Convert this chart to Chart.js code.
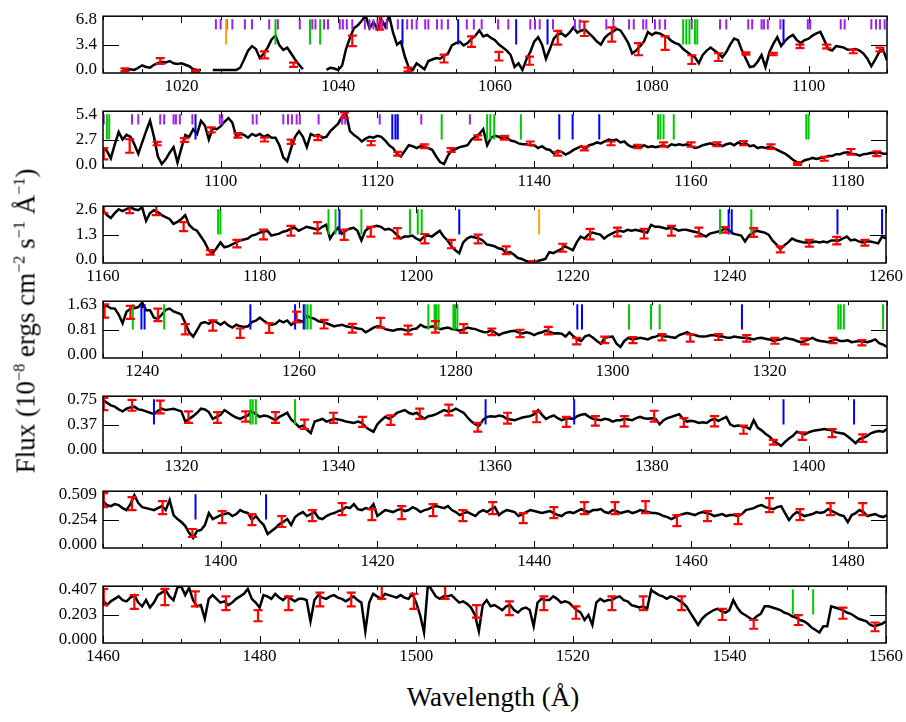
<!DOCTYPE html>
<html>
<head>
<meta charset="utf-8">
<script src="https://cdn.jsdelivr.net/npm/chart.js@4.4.1/dist/chart.umd.min.js"></script>
<style>
  body { margin: 0; background: #fff; width: 906px; height: 722px; position: relative; overflow: hidden; font-family: "Liberation Serif", "Times New Roman", serif; }
  .panel { position: absolute; left: 0; width: 906px; height: 95px; }
  #ylab { position: absolute; left: 26px; top: 321px; transform: translate(-50%, -50%) rotate(-90deg); font-size: 27px; white-space: nowrap; }
  #ylab sup { font-size: 0.6em; }
  #xlab { position: absolute; left: 493px; top: 697px; transform: translate(-50%, -50%); font-size: 27px; white-space: nowrap; }
</style>
</head>
<body>
<div class="panel" style="top:0px"><canvas id="p0" width="906" height="95"></canvas></div>
<div class="panel" style="top:95px"><canvas id="p1" width="906" height="95"></canvas></div>
<div class="panel" style="top:190px"><canvas id="p2" width="906" height="95"></canvas></div>
<div class="panel" style="top:285px"><canvas id="p3" width="906" height="95"></canvas></div>
<div class="panel" style="top:380px"><canvas id="p4" width="906" height="95"></canvas></div>
<div class="panel" style="top:475px"><canvas id="p5" width="906" height="95"></canvas></div>
<div class="panel" style="top:570px"><canvas id="p6" width="906" height="95"></canvas></div>
<div id="ylab">Flux (10<sup>−8</sup> ergs cm<sup>−2</sup> s<sup>−1</sup> Å<sup>−1</sup>)</div>
<div id="xlab">Wavelength (Å)</div>
<script>
// wavelength coverage of each row (Angstrom), sampling step
const panelStart = [1010, 1085, 1160, 1235, 1310, 1385, 1460];
const panelSpan = 100;
const lamStep = 0.5;

// top of the y axis and its tick labels (0, half, top)
const yTop = [6.8, 5.4, 2.6, 1.63, 0.75, 0.509, 0.407];
const yTickText = [
  ['0.0', '3.4', '6.8'],
  ['0.0', '2.7', '5.4'],
  ['0.0', '1.3', '2.6'],
  ['0.00', '0.81', '1.63'],
  ['0.00', '0.37', '0.75'],
  ['0.000', '0.254', '0.509'],
  ['0.000', '0.203', '0.407']
];

// flux, 10 samples (5 A) per line
const flux1 = [
  null,null,null,null,null, 0.05,0.0,0.1,0.0,0.3,
  0.6,0.4,0.3,0.7,0.9, 1.1,1.0,1.2,0.9,0.8,
  0.9,0.7,0.5,0.1,0.0, 0.0,null,null,0.0,0.0,
  0.0,0.0,0.0,0.0,0.0, 0.3,1.4,2.6,3.2,2.8,
  1.6,2.2,3.0,4.1,4.6, 3.3,2.7,3.0,2.2,1.4,
  0.7,0.1,null,null,null, null,null,0.0,0.3,0.2,
  0.0,0.6,2.8,4.3,5.6, 6.0,6.6,7.3,5.6,6.4,
  5.5,6.8,5.8,7.3,5.0, 3.4,3.8,1.8,0.3,0.0,
  0.9,0.5,0.1,1.2,1.4, 1.6,1.5,1.9,2.2,3.3,
  3.6,3.8,3.3,3.6,4.2, 4.6,5.3,4.5,4.7,4.3,
  4.0,3.4,3.0,2.6,2.0, 0.4,0.9,0.0,1.4,2.4,
  3.8,4.4,3.4,1.5,2.8, 4.2,4.8,4.9,4.5,5.0,
  5.7,5.0,5.3,5.4,4.9, 4.4,3.8,3.4,4.3,4.8,
  5.1,5.5,5.3,4.5,3.6, 2.2,2.6,3.2,3.8,5.1,
  4.7,5.0,4.9,4.6,4.4, 3.9,3.6,3.4,2.8,2.4,
  2.0,1.7,0.9,2.0,2.6, 3.0,2.6,2.2,1.7,2.4,
  3.4,4.2,4.0,2.6,1.5, 0.4,0.5,1.1,2.0,0.4,
  2.4,3.5,4.4,3.2,3.9, 4.4,4.7,4.0,3.6,4.0,
  4.2,4.6,4.9,5.1,4.0, 2.8,2.6,3.2,3.1,3.0,
  2.7,2.7,2.8,2.6,2.2, 1.5,0.5,1.4,2.4,2.7,
  1.3
];
const flux2 = [
  1.8,1.5,0.7,2.2,3.5, 2.7,3.2,3.0,2.2,1.2,
  2.4,3.6,4.7,3.0,0.9, 0.1,0.6,1.3,1.9,0.25,
  1.8,3.2,3.0,3.8,3.3, 4.7,4.2,2.7,3.9,3.8,
  4.1,4.6,5.0,4.5,3.0, 3.3,3.2,2.9,3.3,3.1,
  3.3,3.0,3.2,2.9,2.9, 2.1,0.8,0.4,1.8,3.0,
  3.6,3.0,1.9,3.3,3.1, 3.2,2.9,3.0,3.6,4.0,
  4.4,5.2,5.5,3.6,3.2, 2.9,2.5,2.8,3.0,2.9,
  3.1,3.0,2.6,2.1,1.8, 1.2,0.9,1.5,2.1,2.0,
  1.8,2.0,1.9,1.8,1.6, 0.9,0.3,0.1,1.0,1.6,
  1.7,1.9,2.0,2.1,2.7, 3.0,3.3,3.8,2.1,2.9,
  3.1,3.0,2.8,2.9,2.6, 2.5,2.3,2.2,2.2,2.1,
  2.1,1.8,2.0,1.7,1.6, 1.2,1.5,1.4,1.1,1.3,
  1.6,1.8,2.0,1.7,2.1, 2.2,2.4,2.3,2.5,2.7,
  2.6,2.7,2.4,2.5,2.1, 1.9,2.1,1.8,2.1,1.9,
  2.0,1.9,2.0,2.1,1.9, 2.2,2.1,2.2,2.1,2.2,
  2.0,1.8,1.9,2.1,2.2, 2.3,2.1,2.2,2.0,2.2,
  2.3,2.1,2.4,2.2,2.3, 2.0,2.1,1.8,1.9,1.8,
  1.9,1.8,1.6,1.4,1.2, 0.9,0.55,0.3,0.25,0.5,
  0.6,0.75,0.65,0.75,0.8, 0.95,0.95,1.15,1.15,1.3,
  1.35,1.2,1.15,1.0,1.15, 1.2,1.3,1.25,1.35,1.2,
  1.2
];
const flux3 = [
  2.55,2.3,2.15,2.4,2.6, 2.5,2.6,2.7,2.6,2.55,
  2.7,2.0,2.4,2.55,2.45, 2.3,2.2,2.1,1.85,1.95,
  2.1,2.3,1.8,1.6,1.5, 1.2,0.9,0.5,0.35,0.6,
  0.9,0.65,0.7,0.8,0.9, 1.0,1.05,1.1,1.25,1.3,
  1.4,1.45,1.5,1.25,1.3, 1.35,1.45,1.5,1.6,1.65,
  1.5,1.6,1.7,1.65,1.6, 1.55,1.7,1.8,1.1,1.4,
  1.65,1.35,1.5,1.6,1.65, 1.5,1.0,1.5,1.65,1.7,
  1.75,1.7,1.55,1.6,1.5, 1.3,1.1,1.2,1.2,1.25,
  1.1,1.0,1.2,1.25,1.2, 1.35,1.5,1.2,1.0,0.7,
  0.5,0.35,0.9,1.1,1.2, 1.15,1.1,1.0,0.8,0.75,
  0.7,0.6,0.55,0.35,0.4, 0.27,0.1,0.05,-0.05,-0.1,
  -0.1,-0.05,0.0,0.05,0.4, 0.35,0.45,0.55,0.7,0.6,
  0.5,0.9,1.2,1.1,1.3, 1.4,1.35,1.3,1.1,1.25,
  1.35,1.45,1.5,1.45,1.55, 1.5,1.55,1.5,1.45,1.4,
  1.8,1.7,1.7,1.65,1.6, 1.65,1.6,1.5,1.55,1.55,
  1.5,1.45,1.4,1.3,1.2, 1.35,1.4,1.45,1.5,1.65,
  1.5,1.35,1.3,1.25,0.95, 1.25,1.4,1.5,1.45,1.4,
  1.3,1.0,0.8,0.55,0.75, 0.9,1.1,1.0,0.95,0.9,
  0.9,0.9,0.95,0.9,0.95, 0.9,1.0,1.0,1.0,1.1,
  1.2,1.0,1.05,0.95,0.9, 0.95,0.95,0.9,0.85,1.2,
  1.1
];
const flux4 = [
  1.54,1.58,1.5,1.49,1.3, 1.02,1.39,1.49,1.5,1.54,
  1.68,1.44,1.44,1.2,1.16, 1.3,1.45,1.49,1.4,1.35,
  1.3,1.02,0.73,0.59,0.8, 1.02,1.06,1.0,1.11,1.05,
  0.97,1.06,0.95,0.88,0.97, 0.92,0.9,0.92,1.06,1.1,
  1.2,1.1,1.02,0.97,1.0, 1.11,1.05,1.11,0.97,1.05,
  1.11,1.06,1.25,1.2,1.16, 1.08,1.06,1.02,0.97,0.92,
  0.95,0.97,0.92,0.9,0.88, 0.85,0.83,0.73,0.8,0.88,
  0.92,0.9,0.83,0.8,0.78, 0.82,0.83,0.8,0.78,0.83,
  0.85,0.97,0.9,0.88,0.92, 0.88,0.83,0.86,0.88,0.83,
  0.82,0.78,0.82,0.88,0.85, 0.83,0.78,0.74,0.73,0.8,
  0.72,0.64,0.7,0.73,0.76, 0.78,0.72,0.69,0.73,0.7,
  0.64,0.7,0.73,0.78,0.74, 0.69,0.7,0.68,0.59,0.73,
  0.6,0.5,0.45,0.6,0.64, 0.55,0.45,0.36,0.55,0.58,
  0.59,0.36,0.26,0.45,0.55, 0.5,0.52,0.55,0.53,0.5,
  0.56,0.59,0.64,0.6,0.59, 0.57,0.55,0.64,0.68,0.73,
  0.66,0.64,0.6,0.59,0.6, 0.63,0.64,0.6,0.59,0.56,
  0.55,0.59,0.57,0.55,0.55, 0.53,0.5,0.54,0.55,0.52,
  0.5,0.45,0.48,0.5,0.55, 0.52,0.5,0.45,0.41,0.45,
  0.5,0.55,0.48,0.45,0.43, 0.41,0.47,0.5,0.45,0.45,
  0.47,0.41,0.43,0.45,0.43, 0.41,0.45,0.5,0.38,0.33,
  0.26
];
const flux5 = [
  0.74,0.7,0.66,0.64,0.6, 0.57,0.61,0.63,0.64,0.6,
  0.59,0.57,0.55,0.53,0.58, 0.61,0.59,0.6,0.61,0.59,
  0.57,0.42,0.46,0.5,0.55, 0.61,0.6,0.56,0.46,0.49,
  0.52,0.59,0.55,0.51,0.48, 0.46,0.49,0.51,0.57,0.53,
  0.49,0.51,0.5,0.47,0.44, 0.49,0.52,0.55,0.45,0.4,
  0.34,0.36,0.3,0.25,0.42, 0.44,0.46,0.42,0.44,0.46,
  0.45,0.44,0.42,0.41,0.4, 0.42,0.4,0.34,0.3,0.27,
  0.38,0.44,0.49,0.46,0.5, 0.55,0.57,0.59,0.55,0.53,
  0.55,0.5,0.46,0.5,0.51, 0.53,0.56,0.59,0.57,0.58,
  0.61,0.58,0.55,0.48,0.42, 0.38,0.36,0.45,0.49,0.5,
  0.49,0.51,0.5,0.46,0.45, 0.44,0.46,0.48,0.49,0.5,
  0.53,0.59,0.52,0.46,0.49, 0.51,0.47,0.44,0.46,0.47,
  0.46,0.5,0.52,0.53,0.49, 0.46,0.45,0.44,0.46,0.45,
  0.42,0.44,0.44,0.46,0.45, 0.44,0.47,0.49,0.47,0.46,
  0.47,0.46,0.38,0.44,0.47, 0.49,0.51,0.53,0.46,0.42,
  0.43,0.42,0.4,0.41,0.4, 0.44,0.46,0.43,0.46,0.49,
  0.38,0.35,0.36,0.35,0.34, 0.31,0.44,0.33,0.29,0.24,
  0.2,0.14,0.1,0.06,0.12, 0.17,0.21,0.27,0.25,0.23,
  0.26,0.28,0.29,0.3,0.31, 0.3,0.29,0.26,0.25,0.24,
  0.2,0.15,0.1,0.16,0.18, 0.21,0.25,0.27,0.28,0.27,
  0.31
];
const flux6 = [
  0.44,0.4,0.39,0.41,0.4, 0.37,0.35,0.41,0.5,0.42,
  0.38,0.37,0.36,0.35,0.37, 0.39,0.35,0.45,0.3,0.26,
  0.23,0.19,0.12,0.07,0.14, 0.15,0.2,0.32,0.26,0.28,
  0.3,0.31,0.32,0.29,0.31, 0.35,0.33,0.32,0.25,0.29,
  0.24,0.2,0.11,0.14,0.17, 0.21,0.23,0.26,0.2,0.28,
  0.31,0.33,0.29,0.31,0.33, 0.27,0.26,0.29,0.31,0.32,
  0.34,0.35,0.38,0.37,0.41, 0.36,0.35,0.37,0.36,0.41,
  0.29,0.32,0.35,0.34,0.33, 0.35,0.36,0.34,0.35,0.38,
  0.36,0.33,0.35,0.36,0.38, 0.39,0.38,0.37,0.39,0.35,
  0.33,0.3,0.32,0.33,0.31, 0.29,0.33,0.35,0.33,0.36,
  0.38,0.3,0.33,0.35,0.34, 0.33,0.29,0.31,0.33,0.35,
  0.34,0.33,0.32,0.33,0.34, 0.32,0.3,0.29,0.32,0.33,
  0.32,0.34,0.36,0.34,0.33, 0.35,0.35,0.36,0.33,0.32,
  0.35,0.34,0.32,0.33,0.34, 0.32,0.33,0.35,0.34,0.33,
  0.32,0.32,0.31,0.29,0.28, 0.26,0.28,0.3,0.31,0.32,
  0.31,0.3,0.32,0.33,0.32, 0.31,0.29,0.3,0.31,0.29,
  0.3,0.3,0.29,0.31,0.35, 0.36,0.37,0.39,0.4,0.38,
  0.37,0.36,0.38,0.39,0.32, 0.25,0.3,0.33,0.31,0.29,
  0.3,0.31,0.33,0.32,0.33, 0.36,0.34,0.32,0.3,0.29,
  0.23,0.3,0.32,0.35,0.33, 0.29,0.3,0.31,0.29,0.28,
  0.3
];
const flux7 = [
  0.32,0.28,0.31,0.33,0.35, 0.32,0.31,0.34,0.36,0.3,
  0.27,0.32,0.26,0.3,0.36, 0.38,0.4,0.35,0.32,0.42,
  0.43,0.36,0.42,0.32,0.27, 0.28,0.17,0.33,0.36,0.33,
  0.3,0.31,0.28,0.3,0.33, 0.35,0.37,0.41,0.33,0.3,
  0.26,0.36,0.35,0.33,0.37, 0.34,0.32,0.35,0.33,0.31,
  0.33,0.33,0.32,0.15,0.32, 0.36,0.34,0.33,0.35,0.36,
  0.34,0.33,0.31,0.33,0.35, 0.32,0.3,0.07,0.3,0.37,
  0.35,0.33,0.37,0.36,0.35, 0.34,0.36,0.34,0.33,0.37,
  0.3,0.2,0.06,0.45,0.4, 0.35,0.33,0.35,0.35,0.36,
  0.33,0.3,0.31,0.29,0.26, 0.2,0.07,0.28,0.32,0.27,
  0.28,0.26,0.24,0.27,0.28, 0.24,0.22,0.25,0.26,0.24,
  0.11,0.3,0.33,0.32,0.32, 0.35,0.33,0.3,0.31,0.3,
  0.27,0.24,0.22,0.16,0.2, 0.12,0.3,0.33,0.31,0.32,
  0.32,0.34,0.35,0.32,0.31, 0.28,0.27,0.26,0.27,0.25,
  0.4,0.38,0.36,0.35,0.33, 0.35,0.34,0.32,0.3,0.27,
  0.22,0.17,0.12,0.17,0.2, 0.22,0.24,0.25,0.23,0.22,
  0.24,0.32,0.26,0.22,0.2, 0.18,0.16,0.19,0.21,0.27,
  0.27,0.26,0.25,0.24,0.22, 0.21,0.19,0.18,0.16,0.15,
  0.13,0.1,0.08,0.06,0.11, 0.11,0.27,0.26,0.25,0.24,
  0.22,0.21,0.19,0.17,0.16, 0.15,0.12,0.11,0.12,0.13,
  0.15
];
const fluxes = [flux1, flux2, flux3, flux4, flux5, flux6, flux7];

// error bars: [wavelength, low, high]
const err1 = [[1012.8,-0.15,0.23],[1017.3,0.8,1.58],[1021.8,-0.3,-0.05],[1030.6,1.55,2.5],[1034.3,0.42,0.97],[1041.8,3.2,4.6],[1045.3,5.4,7.2],[1048.9,-0.2,0.3],[1053.5,1.0,2.05],[1057.0,3.1,4.5],[1060.5,1.27,2.43],[1064.4,0.7,1.78],[1068.0,3.4,5.25],[1071.4,4.55,6.5],[1074.9,3.8,5.7],[1078.3,1.97,3.6],[1081.7,2.7,4.5],[1085.1,0.8,1.97],[1088.5,1.2,2.24],[1092.0,2.05,2.35],[1095.5,1.97,2.3],[1098.9,2.93,3.4],[1102.3,2.9,3.4],[1105.7,2.24,2.7],[1109.1,2.5,3.0]];
const err2 = [[1085.1,0.6,1.8],[1088.4,1.3,2.75],[1091.9,2.1,2.45],[1095.4,2.45,2.85],[1098.8,3.47,4.0],[1102.2,2.9,3.4],[1105.6,2.5,2.9],[1109.0,2.25,2.7],[1112.4,2.65,3.07],[1115.8,5.0,5.6],[1119.2,2.1,2.55],[1122.6,1.0,1.4],[1126.0,1.8,2.2],[1129.4,1.4,1.8],[1132.8,2.7,3.15],[1136.2,2.7,3.1],[1139.5,2.15,2.5],[1143.0,1.0,1.4],[1146.4,1.55,1.95],[1149.8,2.1,2.5],[1153.2,1.8,2.15],[1156.5,1.95,2.4],[1160.0,1.95,2.4],[1163.3,2.0,2.4],[1166.7,2.1,2.55],[1170.2,1.7,2.2],[1173.6,0.0,0.25],[1177.0,0.45,0.85],[1180.4,1.1,1.7],[1183.7,0.95,1.45]];
const err3 = [[1160.1,2.4,2.77],[1163.4,2.4,2.8],[1166.8,2.3,2.77],[1170.3,1.48,1.94],[1173.7,0.27,0.5],[1177.1,0.65,1.03],[1180.5,1.06,1.56],[1184.0,1.25,1.75],[1187.4,1.36,1.94],[1190.8,1.03,1.56],[1194.2,1.2,1.7],[1197.6,1.1,1.63],[1201.1,0.85,1.33],[1204.5,0.6,1.03],[1207.9,0.85,1.3],[1211.5,0.3,0.7],[1214.9,-0.16,-0.06],[1218.7,0.42,0.83],[1222.2,1.06,1.59],[1225.7,1.21,1.66],[1229.1,1.1,1.59],[1232.6,1.25,1.75],[1236.1,1.21,1.66],[1239.5,1.4,1.68],[1243.1,1.18,1.63],[1246.5,0.39,0.7],[1250.2,0.68,1.03],[1253.7,0.8,1.18],[1257.3,0.73,1.03]];
const err4 = [[1235.2,1.2,1.63],[1238.5,1.16,1.58],[1242.0,1.09,1.49],[1245.5,0.66,0.99],[1249.0,0.78,1.11],[1252.5,0.55,0.85],[1256.2,0.71,1.02],[1259.7,1.05,1.39],[1263.2,0.85,1.13],[1266.8,0.72,1.0],[1270.4,0.88,1.19],[1273.9,0.66,0.94],[1277.4,0.72,1.09],[1281.0,0.71,0.99],[1284.6,0.64,0.85],[1288.2,0.57,0.81],[1291.8,0.66,0.9],[1295.4,0.34,0.55],[1299.0,0.38,0.59],[1302.6,0.38,0.57],[1306.3,0.47,0.67],[1309.9,0.43,0.66],[1313.5,0.48,0.67],[1317.1,0.43,0.64],[1320.7,0.36,0.55],[1324.5,0.34,0.53],[1328.1,0.38,0.55],[1331.8,0.31,0.48]];
const err5 = [[1310.1,0.59,0.77],[1313.7,0.58,0.74],[1317.3,0.54,0.73],[1320.9,0.4,0.57],[1324.6,0.4,0.56],[1328.2,0.42,0.57],[1332.0,0.4,0.56],[1335.7,0.31,0.45],[1339.4,0.4,0.55],[1343.1,0.34,0.49],[1346.7,0.37,0.51],[1350.4,0.46,0.61],[1354.1,0.51,0.67],[1357.8,0.27,0.4],[1361.6,0.39,0.55],[1365.3,0.41,0.57],[1369.1,0.34,0.49],[1372.8,0.36,0.5],[1376.5,0.35,0.5],[1380.3,0.42,0.58],[1384.1,0.34,0.47],[1388.0,0.35,0.5],[1391.7,0.24,0.36],[1395.5,0.08,0.15],[1399.2,0.15,0.26],[1403.0,0.19,0.31],[1406.9,0.12,0.23]];
const err6 = [[1385.1,0.38,0.52],[1388.7,0.35,0.48],[1392.6,0.31,0.44],[1396.4,0.08,0.16],[1400.2,0.22,0.34],[1404.0,0.2,0.31],[1407.8,0.18,0.29],[1411.7,0.24,0.35],[1415.5,0.3,0.42],[1419.3,0.25,0.36],[1423.1,0.26,0.39],[1427.1,0.29,0.41],[1430.9,0.24,0.35],[1434.7,0.31,0.43],[1438.6,0.22,0.32],[1442.5,0.27,0.38],[1446.4,0.31,0.43],[1450.3,0.31,0.43],[1454.2,0.32,0.44],[1458.2,0.19,0.3],[1462.1,0.24,0.34],[1466.0,0.21,0.31],[1470.0,0.33,0.47],[1473.9,0.25,0.36],[1477.8,0.3,0.42],[1481.9,0.3,0.42]];
const err7 = [[1460.1,0.28,0.41],[1464.0,0.25,0.36],[1467.9,0.28,0.41],[1471.8,0.27,0.39],[1475.7,0.24,0.35],[1479.8,0.15,0.24],[1483.7,0.24,0.35],[1487.7,0.27,0.38],[1491.7,0.27,0.38],[1495.6,0.33,0.45],[1499.7,0.25,0.37],[1503.7,0.33,0.45],[1507.7,0.18,0.28],[1511.9,0.2,0.31],[1516.3,0.24,0.35],[1520.4,0.17,0.27],[1525.0,0.24,0.35],[1529.0,0.24,0.35],[1533.9,0.24,0.35],[1539.1,0.16,0.25],[1543.1,0.09,0.16],[1548.8,0.12,0.2],[1554.5,0.17,0.26],[1558.6,0.07,0.14]];
const errBars = [err1, err2, err3, err4, err5, err6, err7];

// line identifications (wavelengths)
const purpleLines = [1024.4,1025.0,1025.8,1026.5,1028.1,1029.0,1031.2,1032.3,1035.1,1036.7,1037.1,1038.2,1038.7,1040.2,1040.6,1041.1,1041.8,1043.4,1044.0,1044.5,1045.0,1045.6,1046.2,1047.6,1048.8,1049.4,1050.0,1051.1,1051.5,1052.6,1053.2,1054.0,1056.4,1057.3,1058.3,1060.4,1061.7,1064.5,1065.1,1065.7,1067.4,1070.2,1070.8,1074.2,1075.1,1077.1,1077.7,1078.9,1079.3,1080.4,1081.0,1081.7,1085.1,1088.7,1089.5,1092.3,1092.8,1094.0,1094.3,1094.8,1096.4,1099.9,1100.2,1104.1,1104.6,1108.0,1108.6,1109.1,1109.7,1110.1,1112.5,1115.5,1115.9,1120.3,1125.6,1131.8];
const orangeLines = [1025.7, 1215.7];
const greenLines = [1032.0,1036.4,1037.7,1084.0,1084.4,1084.8,1085.5,1085.8,1128.2,1134.0,1134.4,1134.9,1138.3,1155.8,1156.1,1156.5,1157.8,1174.7,1175.0,1188.8,1189.7,1193.0,1199.2,1200.2,1200.7,1238.8,1242.8,1260.8,1261.1,1261.5,1276.5,1277.3,1277.5,1277.8,1279.7,1279.9,1280.2,1302.1,1304.9,1306.0,1328.8,1329.1,1329.5,1334.5,1548.1,1550.7];
const blueLines = [1048.2,1055.3,1062.7,1066.7,1096.8,1121.9,1122.3,1122.6,1143.2,1144.9,1148.3,1190.2,1205.5,1239.9,1240.3,1253.8,1259.5,1260.6,1295.5,1296.1,1316.5,1358.8,1370.1,1396.8,1405.8];

const serif = 'Liberation Serif';

const overlay = {
    id: 'overlay',
    afterDatasetsDraw(chart, args, opts) {
        const { ctx, chartArea: a, scales: { x, y } } = chart;
        const top = opts.top;
        ctx.save();
        ctx.beginPath();
        ctx.rect(a.left, a.top, a.width, a.height);
        ctx.clip();
        const marks = (list, color, frac) => {
            ctx.strokeStyle = color;
            ctx.lineWidth = 2;
            ctx.beginPath();
            list.forEach(l => {
                if (l < x.min || l > x.max) return;
                const px = x.getPixelForValue(l);
                ctx.moveTo(px, y.getPixelForValue(top));
                ctx.lineTo(px, y.getPixelForValue(top * frac));
            });
            ctx.stroke();
        };
        marks(purpleLines, '#a020f0', 0.8);
        marks(orangeLines, '#ffa500', 0.5);
        marks(greenLines, '#00c800', 0.5);
        marks(blueLines, '#0000ff', 0.5);
        // red error bars
        ctx.strokeStyle = '#ff0000';
        ctx.lineWidth = 2.2;
        ctx.beginPath();
        opts.err.forEach(([l, lo, hi]) => {
            const px = x.getPixelForValue(l);
            const p1 = y.getPixelForValue(lo), p2 = y.getPixelForValue(hi);
            ctx.moveTo(px, p1); ctx.lineTo(px, p2);
            ctx.moveTo(px - 4.5, p1); ctx.lineTo(px + 4.5, p1);
            ctx.moveTo(px - 4.5, p2); ctx.lineTo(px + 4.5, p2);
        });
        ctx.stroke();
        ctx.restore();

        // frame and inward ticks
        ctx.save();
        ctx.strokeStyle = '#000';
        ctx.lineWidth = 1.5;
        ctx.strokeRect(a.left, a.top, a.width, a.height);
        ctx.lineWidth = 1;
        ctx.beginPath();
        for (let v = Math.ceil(x.min / 5) * 5; v <= x.max; v += 5) {
            const px = Math.round(x.getPixelForValue(v)) + 0.5;
            const len = v % 20 === 0 ? 7 : 4;
            ctx.moveTo(px, a.bottom); ctx.lineTo(px, a.bottom - len);
            ctx.moveTo(px, a.top); ctx.lineTo(px, a.top + len);
        }
        const py = Math.round(y.getPixelForValue(top / 2)) + 0.5;
        ctx.moveTo(a.left, py); ctx.lineTo(a.left + 16, py);
        ctx.moveTo(a.right - 16, py); ctx.lineTo(a.right, py);
        ctx.stroke();
        ctx.restore();
    }
};

panelStart.forEach((start, k) => {
    const top = yTop[k];
    const points = fluxes[k].map((f, i) => ({ x: start + i * lamStep, y: f }));
    const xLabels = [];
    for (let v = Math.ceil(start / 20) * 20; v <= start + panelSpan; v += 20) xLabels.push(v);

    new Chart(document.getElementById('p' + k), {
        type: 'line',
        data: {
            datasets: [{
                data: points,
                borderColor: '#000',
                borderWidth: 2.5,
                pointRadius: 0,
                tension: 0,
                spanGaps: false
            }]
        },
        options: {
            responsive: false,
            animation: false,
            events: [],
            layout: { padding: { left: 0, right: 19, top: 7, bottom: 0 } },
            plugins: {
                legend: { display: false },
                tooltip: { enabled: false },
                overlay: { top: top, err: errBars[k] }
            },
            scales: {
                x: {
                    type: 'linear',
                    min: start,
                    max: start + panelSpan,
                    afterBuildTicks: s => { s.ticks = xLabels.map(v => ({ value: v })); },
                    afterFit: s => { s.height = 22; },
                    ticks: { color: '#000', font: { family: serif, size: 17 }, padding: 3, maxRotation: 0, autoSkip: false, callback: v => String(v) },
                    grid: { display: false, drawTicks: false },
                    border: { display: false }
                },
                y: {
                    min: -0.06 * top,
                    max: 1.06 * top,
                    afterBuildTicks: s => { s.ticks = [0, top / 2, top].map(v => ({ value: v })); },
                    afterFit: s => { s.width = 103; },
                    ticks: { color: '#000', font: { family: serif, size: 17 }, padding: 6, callback: (v, i) => yTickText[k][i] },
                    grid: { display: false, drawTicks: false },
                    border: { display: false }
                }
            }
        },
        plugins: [overlay]
    });
});
</script>
</body>
</html>
